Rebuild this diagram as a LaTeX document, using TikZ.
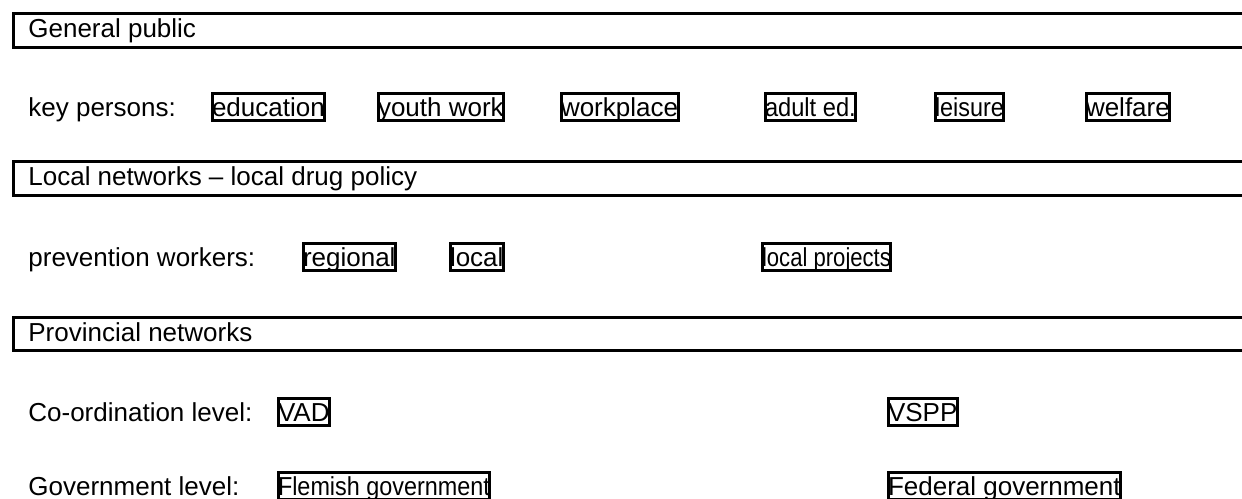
\documentclass[tikz,border=0pt]{standalone}
\usepackage{fontspec}
\setmainfont{Liberation Sans}

\begin{document}
\begin{tikzpicture}[x = 0.5pt, y = -0.5pt,
	every node/.style = {font = \fontsize{13}{15}\selectfont, inner sep = 0pt},
	levtext/.style = {anchor = base west},
	unit/.style = {draw, line width = 1.5pt, anchor = base west, inner xsep = 0pt, inner ysep = 0.75pt, text height = 10.5pt, text depth = 1.5pt},
	bar/.style = {line width = 1.5pt}]

	% Definitions

	\def\barleft{13.5}		% left edge of the level bars
	\def\barright{1262}		% bars run out of the picture on the right
	\def\labx{28}			% start of all row labels

	\useasboundingbox (0, 0) rectangle (1242, 498);


	% Level bars

	\draw [bar] (\barright, 13.5) -- (\barleft, 13.5) -- (\barleft, 47.5) -- (\barright, 47.5);
	\draw [bar] (\barright, 161.5) -- (\barleft, 161.5) -- (\barleft, 195.5) -- (\barright, 195.5);
	\draw [bar] (\barright, 317.5) -- (\barleft, 317.5) -- (\barleft, 350.5) -- (\barright, 350.5);

	\node [levtext] (public) at (\labx, 37) {General public};
	\node [levtext] (localnet) at (\labx, 185) {Local networks -- local drug policy};
	\node [levtext] (provnet) at (\labx, 341) {Provincial networks};


	% Key persons

	\node [levtext] (keyp) at (\labx, 116) {key persons:};

	\foreach \x / \name / \txt in {210.5/educ/education, 376.5/youth/youth work, 559.5/work/workplace,
		763.5/adult/{\scalebox{0.91}[1]{adult ed.}}, 933.5/leis/{\scalebox{0.9}[1]{leisure}}, 1084.5/welf/welfare}
		\node [unit] (\name) at (\x, 116) {\txt};


	% Prevention workers

	\node [levtext] (prevw) at (\labx, 266) {prevention workers:};

	\node [unit] (regional) at (301.5, 266) {regional};
	\node [unit] (local) at (448.5, 266) {local};
	\node [unit] (projects) at (760.5, 266) {\scalebox{0.85}[1]{local projects}};


	% Co-ordination and government

	\node [levtext] (coord) at (\labx, 421) {Co-ordination level:};
	\node [unit] (vad) at (276.5, 421) {VAD};
	\node [unit] (vspp) at (886.5, 421) {VSPP};

	\node [levtext] (gov) at (\labx, 495) {Government level:};
	\node [unit] (flemish) at (276.5, 495) {\scalebox{0.9}[1]{Flemish government}};
	\node [unit] (federal) at (886.5, 495) {Federal government};

\end{tikzpicture}
\end{document}
